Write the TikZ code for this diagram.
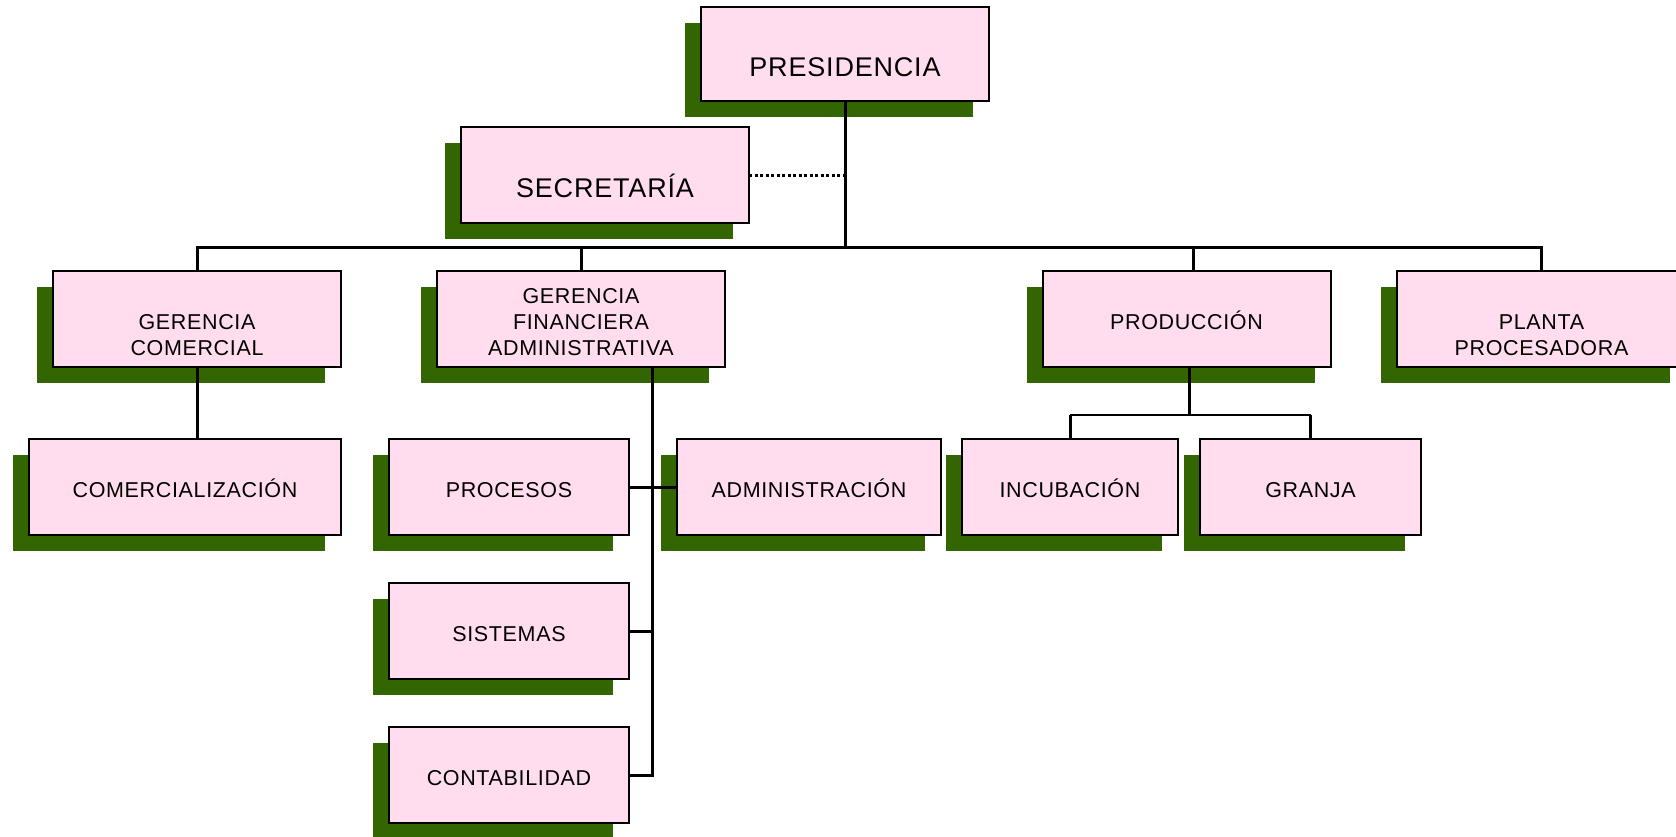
\documentclass[tikz,border=0pt]{standalone}
\usepackage{fontspec}
\setmainfont{Liberation Sans}[LetterSpace=3]
\usepackage{tikz}
\usetikzlibrary{shadows}
\definecolor{rosa}{RGB}{255,221,238}
\definecolor{hoja}{RGB}{51,102,0}
\newcommand{\topstrut}{\rule{0pt}{21pt}}

\begin{document}
\begin{tikzpicture}[
  x=1pt, y=-1pt,
  box/.style={draw, line width=2pt, fill=rosa, inner sep=0pt, outer sep=0pt,
              minimum height=96pt, minimum width=288pt, align=center,
              font=\fontsize{21.5}{26}\selectfont,
              drop shadow={shadow xshift=-16pt, shadow yshift=-16pt, fill=hoja, opacity=1}},
  bigtxt/.style={font=\fontsize{27}{32}\selectfont, text height=44pt, text depth=0pt},
  oneline/.style={text height=20pt, text depth=0pt},
  link/.style={line width=3pt},
  sublink/.style={line width=2pt},
  dotlink/.style={line width=3pt, dash pattern=on 3pt off 2.5pt},
]
\useasboundingbox (0,0) rectangle (1676,836);
\clip (0,0) rectangle (1676,836);

% Presidencia
\node[box, bigtxt, minimum height=94pt] (pres) at (845,54) {PRESIDENCIA};

% Secretaria
\node[box, bigtxt] (secr) at (605,175) {SECRETARÍA};

% Gerencias
\node[box] (gcom) at (197,319) {\topstrut\\GERENCIA\\COMERCIAL};
\node[box] (gfin) at (581,319) {\topstrut GERENCIA\\FINANCIERA\\ADMINISTRATIVA};
\node[box, oneline] (prod) at (1186.5,319) {PRODUCCIÓN};
\node[box, minimum width=289pt] (plant) at (1541.5,319) {\topstrut\\PLANTA\\PROCESADORA};

% Departamentos
\node[box, oneline, minimum width=312pt] (comer) at (185,487) {COMERCIALIZACIÓN};
\node[box, oneline, minimum width=240pt] (proc) at (509,487) {PROCESOS};
\node[box, oneline, minimum width=264pt] (admin) at (809,487) {ADMINISTRACIÓN};
\node[box, oneline, minimum width=216pt] (incub) at (1070,487) {INCUBACIÓN};
\node[box, oneline, minimum width=221pt] (granja) at (1310.5,487) {GRANJA};
\node[box, oneline, minimum width=240pt] (sist) at (509,631) {SISTEMAS};
\node[box, oneline, minimum width=240pt] (conta) at (509,775) {CONTABILIDAD};

% Conectores
\coordinate (bus) at (845,247);
\coordinate (trunk) at (652,775);
\coordinate (pbus) at (1189,415);

\draw[link] (pres) -- (bus);
\draw[dotlink] (secr.east) -- (secr.east -| pres);
\draw[link] (gcom.north) |- (bus) -| (plant.north);
\draw[link] (gfin.north) -- (gfin.north |- bus);
\draw[link] ([xshift=7pt]prod.north) -- ([xshift=7pt]prod.north |- bus);

\draw[link] (gcom.south) -- (gcom.south |- comer.north);

\draw[link] (gfin.south -| trunk) -- (trunk) -- (conta.east);
\draw[link] (sist.east) -- (sist.east -| trunk);
\draw[link] (proc.east) -- (admin.west);

\draw[link] (prod.south -| pbus) -- (pbus);
\draw[link] (incub.north) -- (incub.north |- pbus);
\draw[link] (granja.north) -- (granja.north |- pbus);
\draw[sublink] (incub.north |- pbus) -- (granja.north |- pbus);

\end{tikzpicture}
\end{document}
